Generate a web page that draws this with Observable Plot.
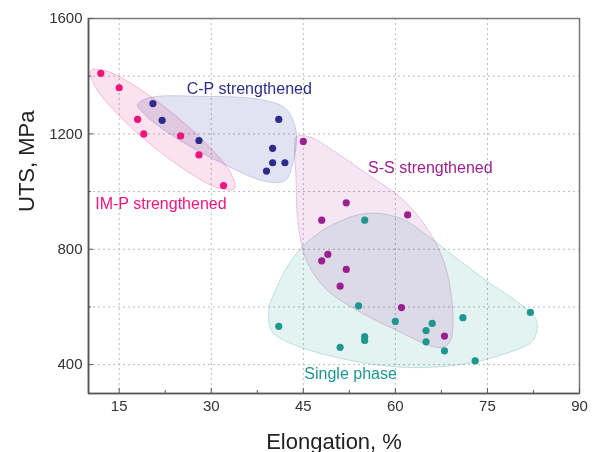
<!DOCTYPE html>
<html>
<head>
<meta charset="utf-8">
<script src="https://cdn.jsdelivr.net/npm/d3@7"></script>
<script src="https://cdn.jsdelivr.net/npm/@observablehq/plot@0.6"></script>
<style>
  html, body { margin: 0; padding: 0; background: #fff; }
</style>
</head>
<body>
<div id="chart"></div>
<script>
// Elongation (%) and ultimate tensile strength (MPa) for each alloy family
const impElong = [12, 15, 18, 19, 25, 28, 32];
const impUts   = [1410, 1360, 1250, 1200, 1193, 1127, 1021];

const cpElong = [20.5, 22, 28, 41, 40, 40, 42, 39];
const cpUts   = [1305, 1247, 1177, 1250, 1150, 1100, 1100, 1071];

const ssElong = [45, 52, 48, 62, 49, 48, 52, 51, 61, 68];
const ssUts   = [1174, 961, 901, 919, 782, 760, 730, 672, 598, 499];

const spElong = [55, 41, 54, 60, 66, 65, 71, 82, 55, 55, 51, 65, 68, 73];
const spUts   = [901, 533, 604, 550, 543, 518, 563, 581, 497, 484, 460, 479, 448, 413];

// Outlines of the shaded family regions, as (elongation, UTS) vertices
const impRegion = [[33.8, 1010], [31.2, 1012], [26.2, 1069], [20.1, 1164], [14.5, 1274], [11.0, 1367],
                   [10.4, 1420], [12.9, 1418], [17.9, 1362], [24.0, 1266], [29.6, 1157], [33.2, 1063]];
const cpRegion = [[18.0, 1302], [20.1, 1326], [28.3, 1330], [38.0, 1319], [42.1, 1288], [43.8, 1212],
                  [43.4, 1108], [42.0, 1038], [38.9, 1035], [31.5, 1101], [24.2, 1187], [19.3, 1264]];
const ssRegion = [[43.9, 1191], [46.2, 1188], [50.3, 1136], [56.0, 1052], [61.2, 973], [65.4, 865],
                  [68.0, 751], [69.2, 622], [69.35, 525], [68.9, 480], [67.6, 460], [65.6, 466], [60.9, 512],
                  [54.4, 581], [48.6, 664], [45.4, 768], [44.1, 900], [43.8, 1056], [43.6, 1149]];
const spRegion = [[39.5, 605], [40.3, 650], [42.5, 744], [45.4, 820], [49.5, 882], [55.2, 924],
                  [60.9, 907], [65.4, 844], [69.8, 772], [75.5, 681], [80.4, 609], [83.0, 553],
                  [82.4, 484], [78.0, 439], [70.7, 401], [62.5, 390], [54.4, 408], [46.2, 449],
                  [41.0, 494], [39.8, 518], [39.35, 560]];

// Region labels
const labelText  = ["C-P strengthened", "S-S strengthened", "IM-P strengthened", "Single phase"];
const labelElong = [36.2, 65.7, 21.8, 52.7];
const labelUts   = [1356, 1083, 957, 368];

// Axis ticks
const xMajor = [15, 30, 45, 60, 75, 90];
const xMinor = [22.5, 37.5, 52.5, 67.5, 82.5];
const yMajor = [400, 800, 1200, 1600];
const yMinor = [600, 1000, 1400];
const xGrid = [15, 30, 45, 60, 75];
const yGrid = [400, 600, 800, 1000, 1200, 1400];

const pts = (xs, ys) => xs.map((x, i) => ({x, y: ys[i]}));
const labels = labelText.map((t, i) => ({t, x: labelElong[i], y: labelUts[i]}));

const colors = {
  imp: "#f0147c",
  cp: "#2c2c8c",
  ss: "#9b1f90",
  sp: "#1f9690"
};
const labelColors = [colors.cp, colors.ss, colors.imp, colors.sp];

const region = (data, fill, stroke) => Plot.line(data, {
  x: d => d[0], y: d => d[1],
  curve: "catmull-rom-closed",
  fill, stroke, strokeWidth: 0.9,
  mixBlendMode: "multiply"
});

const chart = Plot.plot({
  width: 600,
  height: 452,
  marginLeft: 88,
  marginRight: 21,
  marginTop: 18,
  marginBottom: 59,
  style: {fontFamily: "'Liberation Sans', Arial, sans-serif", fontSize: "15px", color: "#333", background: "#fff"},
  x: {domain: [10, 90]},
  y: {domain: [300, 1600]},
  marks: [
    Plot.gridX(xGrid, {stroke: "#bbb", strokeOpacity: 1, strokeDasharray: "2,3"}),
    Plot.gridY(yGrid, {stroke: "#bbb", strokeOpacity: 1, strokeDasharray: "2,3"}),

    region(spRegion, "#e3f3f2", "#b7dcd9"),
    region(ssRegion, "#f6e5f3", "#e2bfdc"),
    region(cpRegion, "#e2e3f2", "#c4c6e2"),
    region(impRegion, "#fbe2ee", "#efb4d1"),

    Plot.dot(pts(spElong, spUts), {x: "x", y: "y", r: 3.6, fill: colors.sp}),
    Plot.dot(pts(ssElong, ssUts), {x: "x", y: "y", r: 3.6, fill: colors.ss}),
    Plot.dot(pts(cpElong, cpUts), {x: "x", y: "y", r: 3.6, fill: colors.cp}),
    Plot.dot(pts(impElong, impUts), {x: "x", y: "y", r: 3.6, fill: colors.imp}),

    Plot.text(labels, {
      x: "x", y: "y", text: "t",
      fill: (d, i) => labelColors[i],
      fontSize: 16, textAnchor: "middle", lineAnchor: "middle"
    }),

    Plot.frame({stroke: "#777", strokeWidth: 1.5}),
    Plot.ruleX([10], {stroke: "#555", strokeWidth: 1.6}),
    Plot.ruleY([300], {stroke: "#555", strokeWidth: 1.6}),

    Plot.axisX({ticks: xMajor, tickSize: -5, tickPadding: 12, tickFormat: d => String(d), stroke: "#555", label: null, fill: "#333"}),
    Plot.axisX({ticks: xMinor, tickSize: -3, tickFormat: () => "", stroke: "#555", label: null}),
    Plot.axisY({ticks: yMajor, tickSize: -5, tickPadding: 11, tickFormat: d => String(d), stroke: "#555", label: null, fill: "#333"}),
    Plot.axisY({ticks: yMinor, tickSize: -3, tickFormat: () => "", stroke: "#555", label: null}),

    Plot.text(["Elongation, %"], {frameAnchor: "bottom", lineAnchor: "bottom", dy: 55, fontSize: 22, fill: "#222"}),
    Plot.text(["UTS, MPa"], {frameAnchor: "left", lineAnchor: "bottom", rotate: -90, dx: -55, dy: 6, fontSize: 22, fill: "#222"})
  ]
});

document.getElementById("chart").appendChild(chart);
</script>
</body>
</html>
